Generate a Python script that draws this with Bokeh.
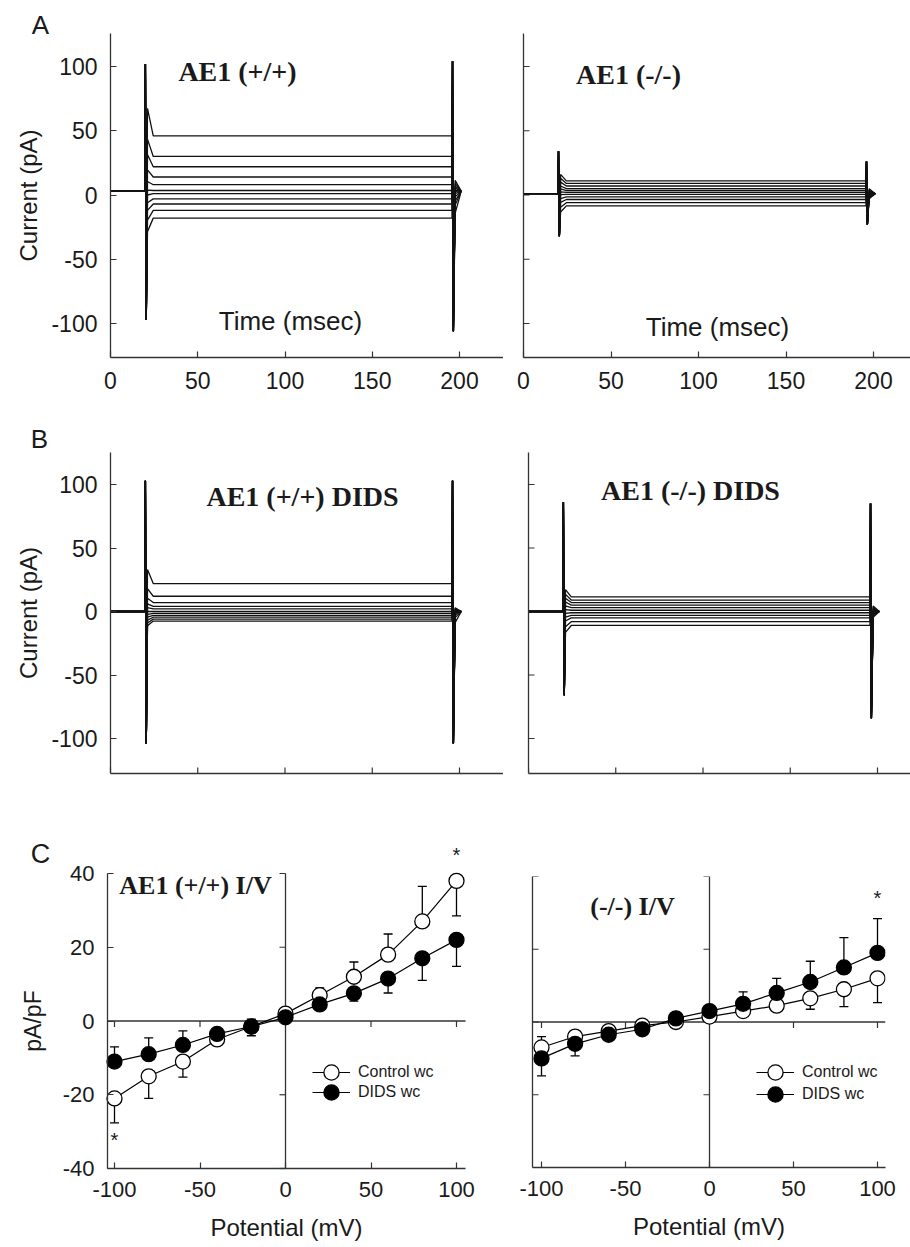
from bokeh.plotting import figure
from bokeh.layouts import column, row
from bokeh.models import Label, FixedTicker, Legend, LegendItem, Range1d
from bokeh.embed import file_html
from bokeh.resources import INLINE

SANS = "Liberation Sans"
SERIF = "Liberation Serif"
INK = "#1a1a1a"
AXIS = "#333333"

# ---------------- data ----------------
time_ticks = [0, 50, 100, 150, 200]
current_ticks = [-100, -50, 0, 50, 100]
iv_x_ticks = [-100, -50, 0, 50, 100]
iv_y_ticks = [-40, -20, 0, 20, 40]

sweep_mV = [100, 80, 60, 40, 20, 0, -20, -40, -60, -80, -100]
# steady-state current of each sweep (pA)
wt_levels = [46, 30, 22, 14, 8, 3.5, 1, -3, -7, -12, -18]
ko_levels = [11, 9, 7, 5, 3.5, 2, 0.5, -1.5, -3.5, -6, -8.5]
wt_dids_levels = [22, 12, 7, 4, 2, 0, -1.5, -3, -4.5, -6, -7.5]
ko_dids_levels = [11.5, 9, 7, 5, 3, 1, -1, -3, -5, -8, -11]
# holding current before the pulse (pA)
wt_hold, ko_hold, wt_dids_hold, ko_dids_hold = 3, 1, 0, 0
# capacitive transients (pA): onset up, onset down, offset up, offset down
wt_spikes = [102, -97, 104, -106]
ko_spikes = [34, -32, 26, -23]
wt_dids_spikes = [103, -104, 103, -104]
ko_dids_spikes = [86, -66, 85, -84]
pulse_on, pulse_off, trace_end = 20, 196, 201

# I/V relations (pA/pF) and the end of each visible error bar
iv_mV = [-100, -80, -60, -40, -20, 0, 20, 40, 60, 80, 100]
wt_control = [-21, -15, -11, -5, -1.5, 2, 7, 12, 18, 27, 38]
wt_control_bar = [-27.6, -21, -15.2, -6.5, -4, 2, 9, 16, 23.6, 36.5, 28.5]
wt_dids = [-11, -9, -6.5, -3.5, -1.5, 1, 4.5, 7.5, 11.5, 17, 22]
wt_dids_bar = [-7, -4.6, -2.7, -2, 0.5, 1, 3, 5.4, 7.6, 11, 14.8]
ko_control = [-7, -4, -2.5, -1, 0, 1.5, 3, 4.5, 6.5, 9, 12]
ko_control_bar = [-4, -3, -2, -0.5, 0, 1.5, 2, 3, 3.5, 4.2, 5.3]
ko_dids = [-10, -6, -3.5, -2, 1, 3, 5, 8, 11, 15, 19]
ko_dids_bar = [-14.8, -9.3, -4.5, -3, 1, 3, 8.3, 12, 16.7, 23.2, 28.4]


# ---------------- helpers ----------------
def mapper(pa, va, pb, vb):
    k = (vb - va) / (pb - pa)
    return lambda px: va + (px - pa) * k


def make_panel(fig_box, frame_box, xmap, ymap):
    fx0, fy0, fx1, fy1 = fig_box
    gx0, gy0, gx1, gy1 = frame_box
    X = mapper(*xmap)
    Y = mapper(*ymap)
    p = figure(width=fx1 - fx0, height=fy1 - fy0,
               x_range=Range1d(X(gx0), X(gx1)), y_range=Range1d(Y(gy1), Y(gy0)),
               output_backend="svg", toolbar_location=None, frame_align=False,
               min_border_left=gx0 - fx0, min_border_right=fx1 - gx1,
               min_border_top=gy0 - fy0, min_border_bottom=fy1 - gy1)
    p.outline_line_color = None
    p.xgrid.visible = False
    p.ygrid.visible = False
    p.background_fill_color = "white"
    p.border_fill_color = "white"
    return p, X, Y


def style_axis(ax, ticks, size="23px", standoff=13):
    ax.axis_line_color = AXIS
    ax.axis_line_width = 1.3
    ax.major_tick_line_color = AXIS
    ax.major_tick_line_width = 1.2
    ax.major_tick_in = 6
    ax.major_tick_out = 0
    ax.minor_tick_line_color = None
    ax.major_label_text_font = SANS
    ax.major_label_text_color = INK
    ax.axis_label_text_font = SANS
    ax.axis_label_text_font_style = "normal"
    ax.axis_label_text_color = INK
    ax.axis_label_text_font_size = "24px"
    ax.ticker = FixedTicker(ticks=ticks)
    if ticks:
        ax.major_label_text_font_size = size
        ax.major_label_standoff = standoff
        ax.major_label_overrides = {t: str(t) for t in ticks}


def inner_ticks(p, X, Y, positions, dim, base_px, length_px):
    n = len(positions)
    if dim == "x":   # vertical tick marks at x positions, from a pixel row
        y0 = Y(base_px)
        y1 = Y(base_px + length_px)
        p.segment(x0=positions, y0=[y0] * n, x1=positions, y1=[y1] * n,
                  line_color=AXIS, line_width=1.2)
    else:            # horizontal tick marks at y positions, from a pixel column
        x0 = X(base_px)
        x1 = X(base_px + length_px)
        p.segment(x0=[x0] * n, y0=positions, x1=[x1] * n, y1=positions,
                  line_color=AXIS, line_width=1.2)


def add_text(p, X, Y, px, py, text, font=SERIF, size="28px", style="bold"):
    p.add_layout(Label(x=X(px), y=Y(py), text=text, text_font=font, text_font_size=size,
                       text_font_style=style, text_color=INK, text_align="center",
                       text_baseline="middle"))


def sweep_traces(levels, hold, spikes):
    up_on, dn_on, up_off, dn_off = spikes
    xs, ys = [], []
    for lv in levels:
        start = hold + 1.5 * (lv - hold)
        tail = hold - 0.4 * (lv - hold)
        xs.append([0, pulse_on - 0.3, pulse_on, pulse_on + 0.5, pulse_on + 1.2, pulse_on + 4.5,
                   pulse_off - 0.3, pulse_off, pulse_off + 0.5, pulse_off + 1.5, trace_end])
        ys.append([hold, hold, up_on, dn_on, start, lv, lv, up_off, dn_off, tail, hold])
    return xs, ys


# ---------------- row A ----------------
pA1, XA1, YA1 = make_panel((0, 0, 503, 410), (0, 5, 503, 357), (110, 0, 459, 200), (66, 100, 323, -100))
style_axis(pA1.xaxis[0], time_ticks, standoff=14)
style_axis(pA1.yaxis[0], current_ticks, standoff=13)
pA1.xaxis[0].bounds = (0, XA1(503))
pA1.yaxis[0].fixed_location = XA1(110)
pA1.yaxis[0].bounds = (YA1(357), YA1(33))
pA1.yaxis[0].axis_label = "Current (pA)"
pA1.yaxis[0].axis_label_standoff = 6
xs, ys = sweep_traces(wt_levels, wt_hold, wt_spikes)
pA1.multi_line(xs, ys, line_color="#111111", line_width=1.3)
add_text(pA1, XA1, YA1, 40, 24, "A", font=SANS, size="26px", style="normal")
add_text(pA1, XA1, YA1, 237, 71, "AE1 (+/+)")
add_text(pA1, XA1, YA1, 290, 320, "Time (msec)", font=SANS, size="26px", style="normal")

pA2, XA2, YA2 = make_panel((503, 0, 910, 410), (523, 33, 910, 357), (523, 0, 873, 200), (66, 100, 323, -100))
style_axis(pA2.xaxis[0], time_ticks, standoff=14)
style_axis(pA2.yaxis[0], [])
inner_ticks(pA2, XA2, YA2, current_ticks, "y", 523, 6)
xs, ys = sweep_traces(ko_levels, ko_hold, ko_spikes)
pA2.multi_line(xs, ys, line_color="#111111", line_width=1.3)
add_text(pA2, XA2, YA2, 628, 74, "AE1 (-/-)")
add_text(pA2, XA2, YA2, 717, 326, "Time (msec)", font=SANS, size="26px", style="normal")

# ---------------- row B ----------------
pB1, XB1, YB1 = make_panel((0, 410, 503, 790), (0, 420, 503, 773), (110, 0, 459, 200), (484, 100, 611, 0))
style_axis(pB1.xaxis[0], [])
style_axis(pB1.yaxis[0], current_ticks, standoff=13)
pB1.xaxis[0].bounds = (0, XB1(503))
pB1.yaxis[0].fixed_location = XB1(110)
pB1.yaxis[0].bounds = (YB1(773), YB1(452))
pB1.yaxis[0].axis_label = "Current (pA)"
pB1.yaxis[0].axis_label_standoff = 6
inner_ticks(pB1, XB1, YB1, time_ticks, "x", 773, -6)
xs, ys = sweep_traces(wt_dids_levels, wt_dids_hold, wt_dids_spikes)
pB1.multi_line(xs, ys, line_color="#111111", line_width=1.3)
add_text(pB1, XB1, YB1, 39, 438, "B", font=SANS, size="26px", style="normal")
add_text(pB1, XB1, YB1, 302, 496, "AE1 (+/+) DIDS")

pB2, XB2, YB2 = make_panel((503, 410, 910, 790), (528, 452, 910, 773), (528, 0, 877, 200), (484, 100, 611, 0))
style_axis(pB2.xaxis[0], [])
style_axis(pB2.yaxis[0], [])
inner_ticks(pB2, XB2, YB2, time_ticks, "x", 773, -6)
inner_ticks(pB2, XB2, YB2, current_ticks, "y", 528, 6)
xs, ys = sweep_traces(ko_dids_levels, ko_dids_hold, ko_dids_spikes)
pB2.multi_line(xs, ys, line_color="#111111", line_width=1.3)
add_text(pB2, XB2, YB2, 690, 490, "AE1 (-/-) DIDS")


# ---------------- row C ----------------
def one_legend(label, renderers, loc):
    return Legend(items=[LegendItem(label=label, renderers=renderers)],
                  location=loc, glyph_width=38, glyph_height=40, label_height=40,
                  padding=0, margin=0, label_standoff=8,
                  label_text_font=SANS, label_text_font_size="16px", label_text_color=INK,
                  border_line_color=None, background_fill_alpha=0)


def iv_content(p, X, Y, ctrl, ctrl_bar, dids, dids_bar, x_lo, x_hi, loc_ctrl, loc_dids):
    # axes through the origin
    ylo, yhi = min(iv_y_ticks), max(iv_y_ticks)
    p.segment(x0=[0], y0=[ylo], x1=[0], y1=[yhi], line_color=AXIS, line_width=1.3)
    p.segment(x0=[x_lo], y0=[0], x1=[x_hi], y1=[0], line_color=AXIS, line_width=1.3)
    xt = [t for t in iv_x_ticks if t != 0]
    yt = [t for t in iv_y_ticks if t != 0]
    dx = X(6) - X(0)
    dy = Y(6) - Y(0)
    p.segment(x0=xt, y0=[0] * len(xt), x1=xt, y1=[dy] * len(xt), line_color=AXIS, line_width=1.2)
    p.segment(x0=[0] * len(yt), y0=yt, x1=[-dx] * len(yt), y1=yt, line_color=AXIS, line_width=1.2)
    # error bars
    for m, e in ((ctrl, ctrl_bar), (dids, dids_bar)):
        p.segment(x0=iv_mV, y0=m, x1=iv_mV, y1=e, line_color="black", line_width=1.3)
        p.scatter(iv_mV, e, marker="dash", size=9, line_color="black", line_width=1.3)
    l1 = p.line(iv_mV, ctrl, line_color="black", line_width=1.2)
    s1 = p.scatter(iv_mV, ctrl, size=15, fill_color="white", line_color="black", line_width=1.3)
    l2 = p.line(iv_mV, dids, line_color="black", line_width=1.2)
    s2 = p.scatter(iv_mV, dids, size=15, fill_color="black", line_color="black", line_width=1.3)
    p.add_layout(one_legend("Control wc", [l1, s1], loc_ctrl))
    p.add_layout(one_legend("DIDS wc", [l2, s2], loc_dids))


pC1, XC1, YC1 = make_panel((0, 790, 500, 1247), (0, 836, 500, 1247), (114, -100, 456, 100), (873, 40, 1168, -40))
style_axis(pC1.xaxis[0], iv_x_ticks, size="22px", standoff=13)
style_axis(pC1.yaxis[0], iv_y_ticks, size="22px", standoff=13)
pC1.xaxis[0].fixed_location = -40
pC1.xaxis[0].bounds = (XC1(107), XC1(465))
pC1.xaxis[0].axis_label = "Potential (mV)"
pC1.xaxis[0].axis_label_standoff = 14
pC1.yaxis[0].fixed_location = XC1(107)
pC1.yaxis[0].bounds = (-40, 40)
pC1.yaxis[0].axis_label = "pA/pF"
pC1.yaxis[0].axis_label_text_font_size = "23px"
pC1.yaxis[0].axis_label_standoff = 14
iv_content(pC1, XC1, YC1, wt_control, wt_control_bar, wt_dids, wt_dids_bar,
           XC1(107), XC1(465), (312, 155), (312, 135))
add_text(pC1, XC1, YC1, 40, 853, "C", font=SANS, size="27px", style="normal")
add_text(pC1, XC1, YC1, 195, 885, "AE1 (+/+) I/V", size="26px")
pC1.add_layout(Label(x=100, y=YC1(854), text="*", text_font=SANS, text_font_size="20px",
                     text_color=INK, text_align="center", text_baseline="middle"))
pC1.add_layout(Label(x=-100, y=YC1(1139), text="*", text_font=SANS, text_font_size="20px",
                     text_color=INK, text_align="center", text_baseline="middle"))

pC2, XC2, YC2 = make_panel((500, 790, 910, 1247), (532, 876, 885, 1167), (541, -100, 877, 100), (876, 40, 1167, -40))
style_axis(pC2.xaxis[0], iv_x_ticks, size="22px", standoff=13)
style_axis(pC2.yaxis[0], [])
pC2.xaxis[0].axis_label = "Potential (mV)"
pC2.xaxis[0].axis_label_standoff = 14
inner_ticks(pC2, XC2, YC2, iv_y_ticks, "y", 532, 6)
iv_content(pC2, XC2, YC2, ko_control, ko_control_bar, ko_dids, ko_dids_bar,
           XC2(532), XC2(885), (224, 75), (224, 53))
add_text(pC2, XC2, YC2, 632, 906, "(-/-) I/V", size="26px")
pC2.add_layout(Label(x=100, y=YC2(897), text="*", text_font=SANS, text_font_size="20px",
                     text_color=INK, text_align="center", text_baseline="middle"))

layout = column(row(pA1, pA2), row(pB1, pB2), row(pC1, pC2))

open("out.html", "w").write(file_html(layout, INLINE))
